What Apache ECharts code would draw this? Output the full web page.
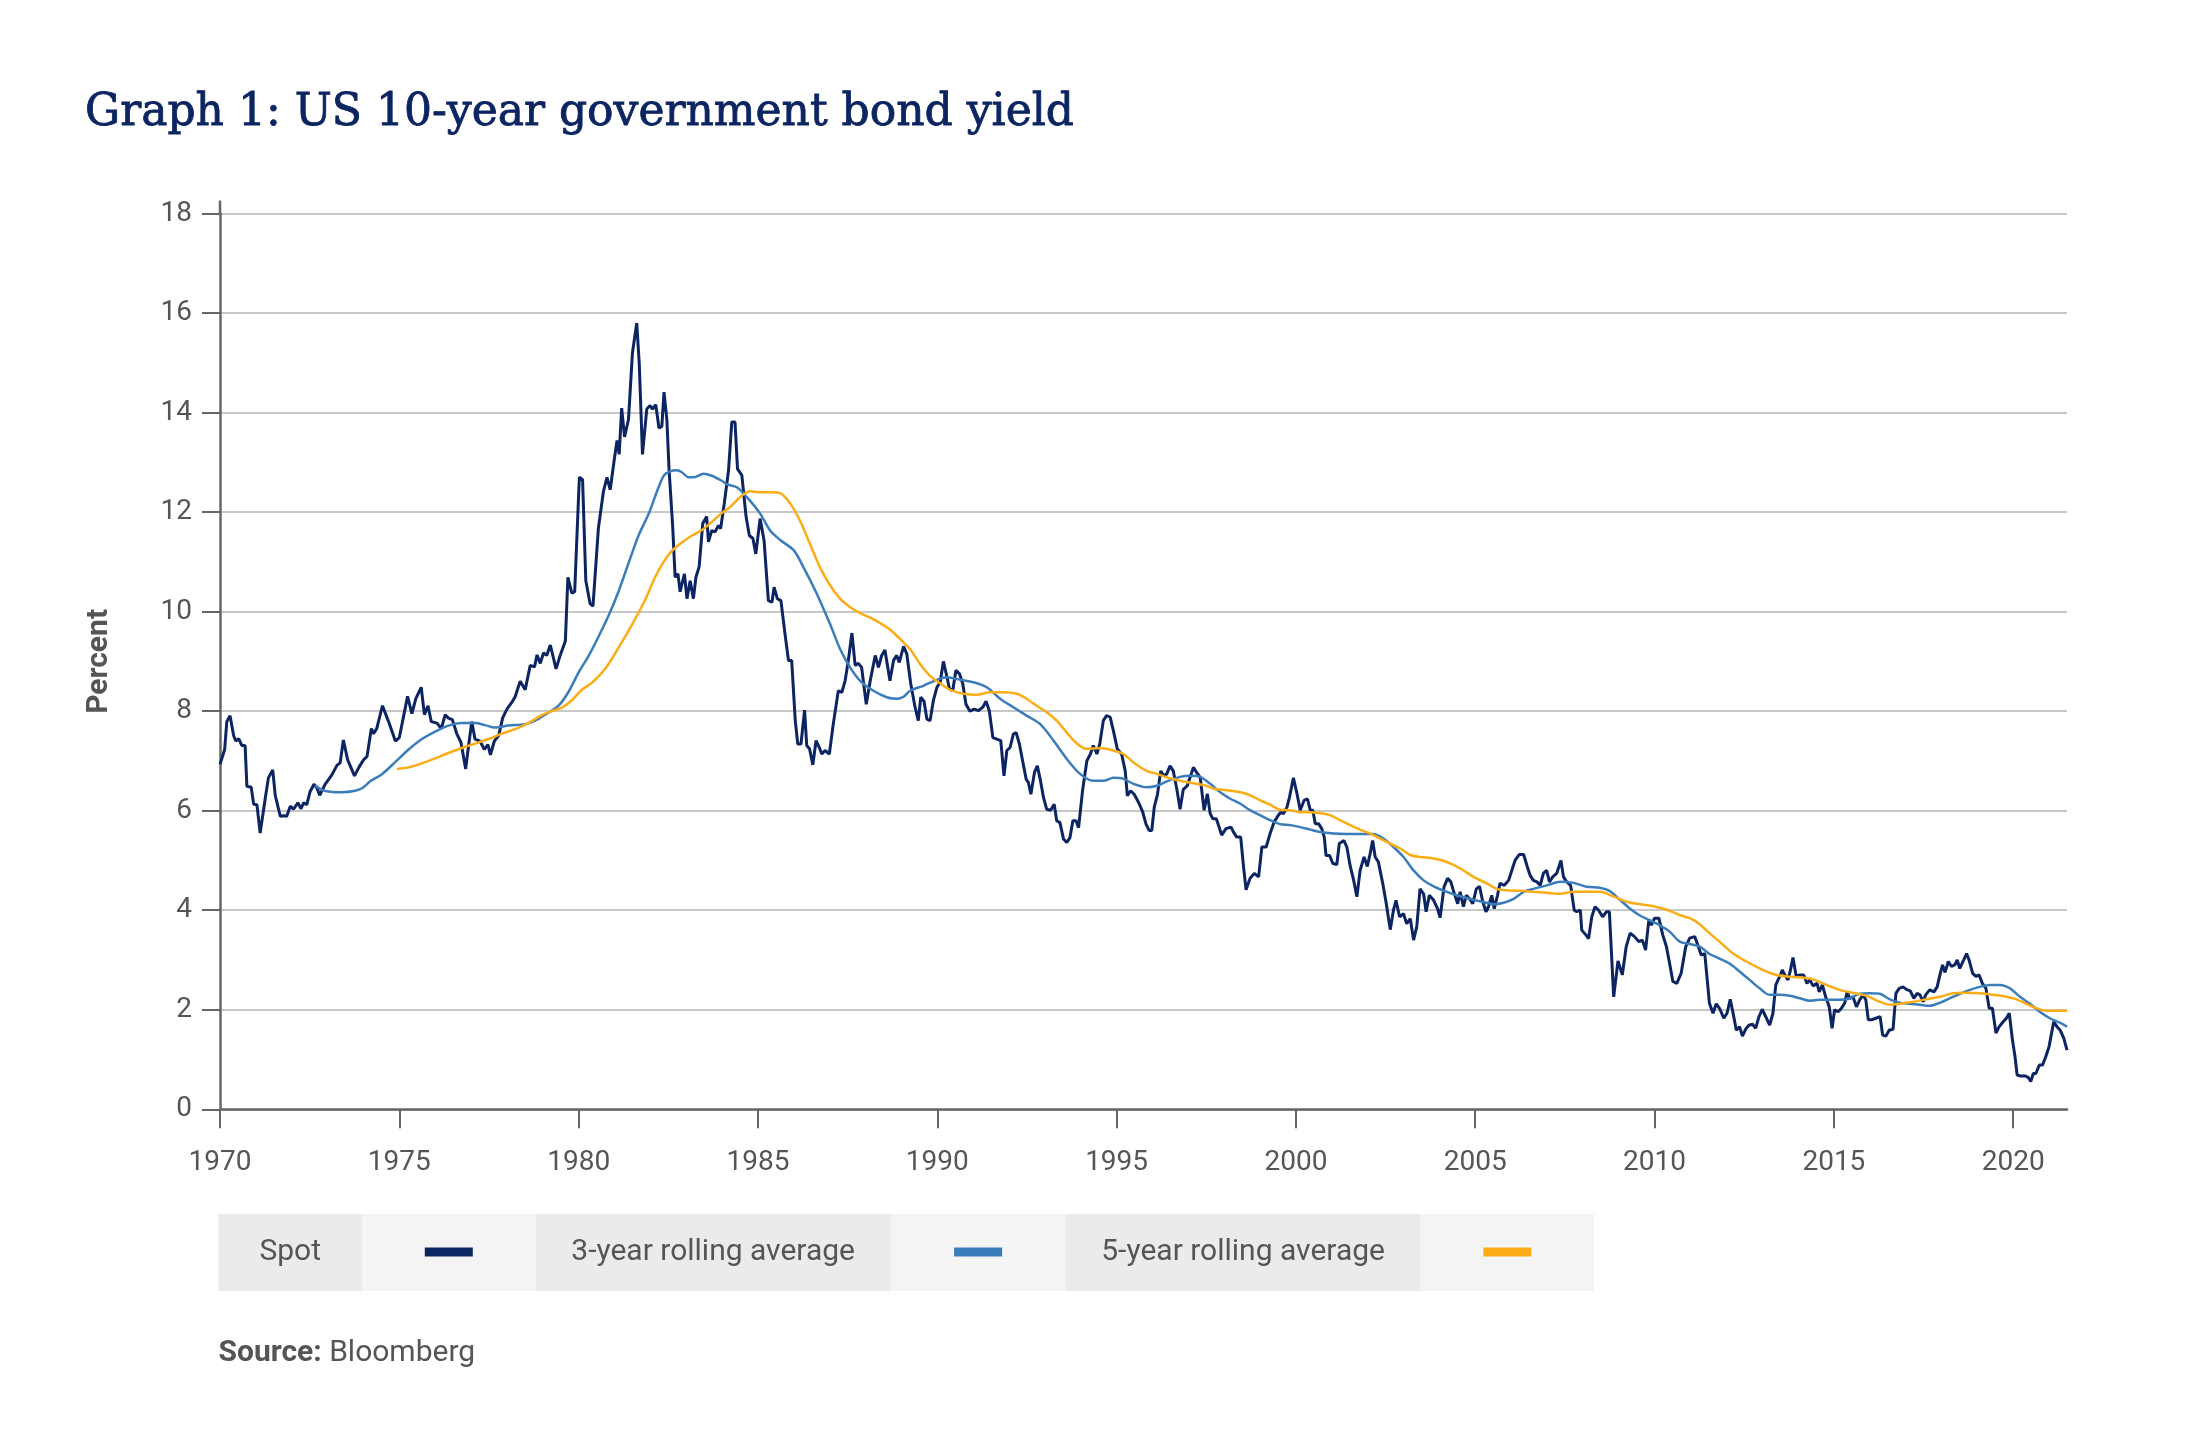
<!DOCTYPE html>
<html><head><meta charset="utf-8">
<script src="https://cdn.jsdelivr.net/npm/echarts@6/dist/echarts.min.js"></script>
<style>html,body{margin:0;padding:0;background:#fff}#chart{width:2210px;height:1454px}</style>
</head><body><div id="chart"></div>
<script>
const titleText = 'Graph 1: US 10-year government bond yield';
const seriesNames = ['Spot', '3-year rolling average', '5-year rolling average'];
const xTickValues = [1970, 1975, 1980, 1985, 1990, 1995, 2000, 2005, 2010, 2015, 2020];
const yTickValues = [0, 2, 4, 6, 8, 10, 12, 14, 16, 18];

const spotYears = [
1970.00,1970.13,1970.19,1970.28,1970.38,1970.44,1970.52,1970.61,1970.70,1970.75,1970.87,1970.94,1971.03,1971.12,1971.26,1971.35,1971.47,1971.54,1971.68,1971.77,1971.86,1971.96,
1972.05,1972.17,1972.26,1972.33,1972.42,1972.51,1972.62,1972.70,1972.78,1972.93,1973.12,1973.26,1973.35,1973.44,1973.56,1973.75,1973.88,
1974.00,1974.10,1974.22,1974.28,1974.37,1974.53,1974.70,1974.89,1975.00,1975.12,1975.23,1975.35,1975.46,1975.61,1975.70,1975.80,1975.89,
1976.05,1976.17,1976.28,1976.37,1976.48,1976.60,1976.72,1976.85,1976.93,1977.02,1977.11,1977.25,1977.37,1977.47,1977.54,1977.65,1977.77,1977.88,
1978.00,1978.14,1978.23,1978.37,1978.51,1978.65,1978.77,1978.84,1978.93,1979.02,1979.11,1979.21,1979.37,1979.49,1979.63,1979.70,1979.81,1979.89,
1980.02,1980.11,1980.20,1980.32,1980.40,1980.55,1980.69,1980.79,1980.88,1981.00,1981.07,1981.13,1981.20,1981.28,1981.39,1981.50,1981.62,1981.69,1981.78,1981.90,1981.99,
1982.06,1982.15,1982.24,1982.32,1982.38,1982.46,1982.52,1982.62,1982.69,1982.77,1982.83,1982.95,1983.02,1983.11,1983.20,1983.27,1983.36,1983.46,1983.57,1983.62,1983.71,1983.80,1983.90,1983.96,
1984.06,1984.18,1984.27,1984.36,1984.43,1984.55,1984.67,1984.76,1984.86,1984.94,1985.06,1985.17,1985.29,1985.39,1985.45,1985.54,1985.64,1985.76,1985.85,1985.94,
1986.04,1986.11,1986.20,1986.30,1986.36,1986.44,1986.53,1986.62,1986.71,1986.78,1986.87,1986.99,1987.10,1987.24,1987.34,1987.43,1987.52,1987.62,1987.71,1987.80,1987.89,
1988.02,1988.13,1988.27,1988.36,1988.45,1988.54,1988.68,1988.78,1988.87,1988.94,1989.06,1989.15,1989.26,1989.38,1989.47,1989.54,1989.63,1989.71,1989.80,1989.89,1989.99,
1990.08,1990.17,1990.26,1990.34,1990.43,1990.52,1990.62,1990.71,1990.80,1990.91,1991.03,1991.15,1991.27,1991.36,1991.45,1991.55,1991.66,1991.77,1991.86,1991.94,
1992.03,1992.12,1992.20,1992.29,1992.38,1992.48,1992.54,1992.61,1992.71,1992.79,1992.87,1992.96,1993.05,1993.16,1993.26,1993.33,1993.42,1993.52,1993.61,1993.70,1993.78,1993.87,1993.94,
1994.05,1994.17,1994.27,1994.35,1994.45,1994.53,1994.63,1994.72,1994.82,1994.91,1995.02,1995.14,1995.24,1995.30,1995.39,1995.49,1995.61,1995.73,1995.82,1995.91,1995.98,
1996.05,1996.14,1996.23,1996.31,1996.40,1996.49,1996.58,1996.68,1996.77,1996.86,1996.97,1997.05,1997.14,1997.23,1997.33,1997.44,1997.53,1997.61,1997.68,1997.78,1997.84,1997.93,
1998.05,1998.19,1998.26,1998.35,1998.46,1998.54,1998.61,1998.72,1998.84,1998.96,1999.05,1999.17,1999.28,1999.39,1999.51,1999.58,1999.65,1999.75,1999.82,1999.93,
2000.03,2000.12,2000.23,2000.32,2000.40,2000.47,2000.54,2000.63,2000.72,2000.79,2000.84,2000.94,2001.03,2001.14,2001.21,2001.34,2001.42,2001.51,2001.61,2001.70,2001.79,2001.90,2001.99,
2002.07,2002.14,2002.21,2002.30,2002.42,2002.52,2002.63,2002.72,2002.79,2002.89,2003.00,2003.09,2003.19,2003.28,2003.37,2003.46,2003.56,2003.63,2003.72,2003.84,2003.95,
2004.02,2004.13,2004.23,2004.32,2004.40,2004.51,2004.58,2004.67,2004.75,2004.84,2004.93,2005.03,2005.12,2005.21,2005.30,2005.37,2005.46,2005.53,2005.62,2005.69,2005.81,2005.93,
2006.02,2006.11,2006.23,2006.35,2006.44,2006.53,2006.62,2006.72,2006.81,2006.90,2006.99,2007.07,2007.16,2007.27,2007.39,2007.46,2007.55,2007.66,2007.76,2007.83,2007.93,2007.97,
2008.09,2008.16,2008.25,2008.34,2008.44,2008.55,2008.66,2008.74,2008.86,2008.98,2009.10,2009.21,2009.32,2009.44,2009.56,2009.66,2009.75,2009.84,2009.91,
2010.00,2010.12,2010.23,2010.33,2010.42,2010.51,2010.62,2010.74,2010.87,2010.98,2011.12,2011.22,2011.30,2011.40,2011.53,2011.63,2011.72,2011.81,2011.93,
2012.02,2012.11,2012.19,2012.28,2012.37,2012.45,2012.54,2012.63,2012.73,2012.82,2012.91,2013.00,2013.10,2013.21,2013.30,2013.38,2013.49,2013.56,2013.63,2013.72,2013.79,2013.86,2013.95,
2014.05,2014.16,2014.25,2014.33,2014.42,2014.53,2014.59,2014.68,2014.77,2014.87,2014.95,2015.02,2015.12,2015.21,2015.30,2015.37,2015.44,2015.53,2015.63,2015.72,2015.81,2015.89,2015.96,
2016.05,2016.17,2016.29,2016.36,2016.45,2016.54,2016.65,2016.73,2016.82,2016.93,2017.02,2017.13,2017.23,2017.32,2017.40,2017.49,2017.56,2017.67,2017.79,2017.88,2017.95,
2018.03,2018.10,2018.19,2018.28,2018.37,2018.44,2018.51,2018.60,2018.70,2018.77,2018.87,2018.96,2019.05,2019.14,2019.24,2019.33,2019.42,2019.52,2019.61,2019.72,2019.81,2019.89,2019.98,
2020.05,2020.11,2020.20,2020.33,2020.42,2020.49,2020.56,2020.63,2020.73,2020.82,2020.91,2021.00,2021.06,2021.13,2021.22,2021.31,2021.41,2021.50
];
const spotValues = [
6.93,7.23,7.79,7.91,7.51,7.40,7.45,7.31,7.31,6.49,6.47,6.13,6.12,5.55,6.24,6.66,6.82,6.31,5.89,5.90,5.89,6.09,
6.03,6.16,6.04,6.16,6.12,6.38,6.53,6.46,6.31,6.53,6.72,6.91,6.96,7.42,7.02,6.70,6.88,
7.02,7.09,7.65,7.55,7.65,8.11,7.79,7.40,7.47,7.90,8.30,7.95,8.25,8.48,7.93,8.11,7.79,
7.76,7.65,7.93,7.86,7.83,7.55,7.37,6.84,7.30,7.79,7.44,7.40,7.23,7.33,7.12,7.40,7.51,7.86,
8.04,8.18,8.29,8.60,8.43,8.92,8.89,9.13,8.96,9.17,9.12,9.33,8.85,9.13,9.41,10.69,10.37,10.40,
12.70,12.65,10.62,10.16,10.11,11.67,12.41,12.70,12.45,13.09,13.44,13.16,14.09,13.51,13.86,15.20,15.80,14.99,13.16,14.07,14.14,
14.07,14.16,13.69,13.72,14.41,13.86,12.87,11.74,10.69,10.76,10.40,10.76,10.26,10.62,10.26,10.69,10.90,11.77,11.91,11.40,11.63,11.60,11.73,11.67,
12.17,12.84,13.81,13.81,12.87,12.74,11.90,11.53,11.47,11.16,11.87,11.43,10.22,10.19,10.49,10.26,10.22,9.52,9.02,9.02,
7.81,7.34,7.34,8.02,7.31,7.24,6.92,7.41,7.27,7.14,7.21,7.14,7.74,8.41,8.38,8.61,9.02,9.57,8.92,8.96,8.88,
8.14,8.61,9.12,8.88,9.12,9.23,8.61,9.02,9.12,8.98,9.30,9.15,8.55,8.08,7.81,8.28,8.20,7.84,7.81,8.21,8.48,
8.58,9.00,8.72,8.45,8.41,8.82,8.75,8.55,8.14,8.00,8.04,8.01,8.08,8.20,8.01,7.47,7.44,7.41,6.70,7.21,
7.27,7.54,7.57,7.34,7.00,6.63,6.57,6.33,6.77,6.90,6.63,6.27,6.03,6.01,6.13,5.80,5.76,5.43,5.36,5.46,5.80,5.80,5.66,
6.40,7.00,7.14,7.31,7.14,7.34,7.81,7.91,7.88,7.61,7.24,7.14,6.80,6.30,6.40,6.33,6.17,5.97,5.73,5.60,5.60,
6.07,6.33,6.80,6.70,6.74,6.90,6.80,6.43,6.03,6.43,6.50,6.67,6.87,6.77,6.67,6.01,6.34,5.94,5.84,5.84,5.71,5.51,
5.64,5.67,5.57,5.47,5.47,4.87,4.41,4.64,4.74,4.67,5.27,5.27,5.54,5.77,5.91,5.97,5.94,6.07,6.27,6.66,
6.34,6.01,6.21,6.24,6.01,6.01,5.74,5.74,5.64,5.47,5.10,5.10,4.94,4.92,5.34,5.40,5.27,4.90,4.60,4.27,4.80,5.07,4.88,
5.14,5.40,5.07,4.97,4.54,4.13,3.61,4.00,4.20,3.87,3.93,3.73,3.83,3.40,3.67,4.43,4.33,3.97,4.30,4.20,4.03,
3.85,4.47,4.64,4.57,4.37,4.13,4.37,4.07,4.30,4.23,4.13,4.43,4.48,4.17,3.97,4.07,4.30,4.03,4.30,4.54,4.50,4.60,
4.80,5.00,5.12,5.12,4.90,4.70,4.60,4.57,4.50,4.74,4.80,4.57,4.67,4.74,5.00,4.67,4.57,4.50,4.00,3.97,4.00,3.60,
3.50,3.43,3.87,4.07,4.00,3.87,3.97,3.97,2.26,2.98,2.70,3.27,3.54,3.47,3.37,3.40,3.20,3.80,3.70,
3.84,3.84,3.50,3.27,2.93,2.57,2.53,2.73,3.27,3.44,3.47,3.27,3.10,3.13,2.13,1.93,2.12,2.03,1.83,
1.93,2.21,1.93,1.59,1.66,1.47,1.61,1.69,1.71,1.63,1.86,2.01,1.86,1.69,1.93,2.50,2.67,2.80,2.70,2.60,2.80,3.05,2.67,
2.70,2.70,2.53,2.60,2.48,2.53,2.36,2.50,2.26,2.06,1.63,2.00,1.96,2.03,2.13,2.36,2.23,2.26,2.06,2.20,2.30,2.20,1.80,
1.80,1.83,1.86,1.49,1.47,1.59,1.61,2.33,2.43,2.46,2.41,2.38,2.23,2.33,2.30,2.16,2.30,2.40,2.36,2.46,2.68,
2.90,2.75,2.97,2.87,2.90,3.00,2.83,2.97,3.13,3.00,2.73,2.67,2.70,2.53,2.43,2.03,2.03,1.53,1.66,1.76,1.83,1.93,1.39,
1.06,0.69,0.67,0.67,0.64,0.56,0.72,0.72,0.89,0.89,1.06,1.26,1.49,1.76,1.66,1.59,1.43,1.19
];

const avg3Years = [
1972.65,1972.84,1973.07,1973.40,1973.77,1973.96,1974.19,1974.51,1974.89,1975.26,
1975.63,1976.00,1976.37,1976.74,1977.12,1977.39,1977.67,1978.04,1978.51,1978.79,
1979.07,1979.44,1979.72,1980.00,1980.27,1980.55,1980.83,1981.11,1981.39,1981.67,
1981.95,1982.13,1982.37,1982.55,1982.74,1982.88,1983.06,1983.20,1983.48,1983.71,
1983.99,1984.13,1984.41,1984.69,1985.06,1985.34,1985.62,1986.00,1986.27,1986.64,
1987.01,1987.29,1987.57,1987.85,1988.22,1988.59,1988.87,1989.06,1989.24,1989.61,
1989.99,1990.26,1990.64,1991.01,1991.38,1991.75,1992.12,1992.49,1992.87,1993.24,
1993.61,1993.98,1994.35,1994.63,1994.91,1995.19,1995.47,1995.84,1996.12,1996.40,
1996.77,1997.05,1997.33,1997.61,1997.89,1998.17,1998.45,1998.72,1999.00,1999.28,
1999.56,1999.84,2000.12,2000.40,2000.68,2001.05,2001.42,2001.79,2002.16,2002.44,
2002.72,2003.00,2003.28,2003.56,2003.84,2004.21,2004.58,2004.95,2005.32,2005.51,
2005.79,2006.07,2006.35,2006.62,2007.00,2007.37,2007.74,2008.11,2008.47,2008.74,
2009.02,2009.30,2009.58,2009.86,2010.14,2010.42,2010.70,2010.98,2011.26,2011.53,
2011.81,2012.09,2012.37,2012.65,2012.93,2013.21,2013.49,2013.77,2014.05,2014.33,
2014.60,2014.98,2015.35,2015.72,2016.00,2016.28,2016.56,2016.84,2017.12,2017.40,
2017.67,2017.95,2018.23,2018.51,2018.79,2019.07,2019.35,2019.63,2019.91,2020.19,
2020.47,2020.74,2021.02,2021.30,2021.50
];
const avg3Values = [
6.51,6.42,6.38,6.37,6.40,6.45,6.59,6.73,6.98,7.23,
7.44,7.59,7.71,7.76,7.76,7.72,7.67,7.71,7.74,7.81,
7.93,8.11,8.39,8.78,9.10,9.49,9.91,10.40,10.97,11.53,
11.96,12.31,12.73,12.82,12.84,12.80,12.70,12.70,12.77,12.73,
12.63,12.56,12.50,12.30,11.97,11.63,11.44,11.23,10.89,10.36,
9.75,9.25,8.88,8.61,8.41,8.28,8.25,8.29,8.41,8.51,
8.63,8.68,8.63,8.58,8.48,8.25,8.08,7.91,7.74,7.41,
7.04,6.74,6.60,6.60,6.66,6.64,6.54,6.47,6.50,6.59,
6.68,6.70,6.68,6.54,6.37,6.24,6.14,6.01,5.91,5.81,
5.73,5.71,5.67,5.62,5.57,5.54,5.53,5.53,5.53,5.44,
5.27,5.07,4.80,4.60,4.48,4.37,4.28,4.21,4.15,4.12,
4.15,4.23,4.37,4.43,4.50,4.57,4.55,4.47,4.45,4.39,
4.22,4.04,3.90,3.80,3.70,3.57,3.37,3.32,3.27,3.12,
3.03,2.93,2.77,2.60,2.43,2.30,2.30,2.28,2.23,2.18,
2.20,2.20,2.21,2.32,2.33,2.32,2.21,2.14,2.12,2.10,
2.08,2.14,2.23,2.32,2.40,2.46,2.50,2.50,2.43,2.26,
2.12,1.96,1.83,1.74,1.66
];

const avg5Years = [
1974.93,1975.26,1975.63,1976.00,1976.37,1976.74,1977.12,1977.49,1977.86,1978.23,
1978.60,1978.97,1979.25,1979.53,1979.81,1980.09,1980.37,1980.74,1981.11,1981.48,
1981.85,1982.13,1982.37,1982.60,1982.88,1983.16,1983.44,1983.71,1983.99,1984.22,
1984.50,1984.78,1985.06,1985.34,1985.62,1985.90,1986.17,1986.45,1986.73,1987.01,
1987.29,1987.57,1987.85,1988.13,1988.41,1988.68,1988.96,1989.24,1989.52,1989.80,
1990.08,1990.36,1990.73,1991.10,1991.47,1991.85,1992.22,1992.49,1992.77,1993.05,
1993.33,1993.61,1993.89,1994.17,1994.54,1994.91,1995.19,1995.47,1995.84,1996.12,
1996.40,1996.77,1997.14,1997.51,1997.70,1998.07,1998.45,1998.72,1999.00,1999.28,
1999.56,1999.84,2000.12,2000.40,2000.68,2000.95,2001.23,2001.51,2001.79,2002.07,
2002.35,2002.63,2002.91,2003.19,2003.46,2003.84,2004.21,2004.58,2004.95,2005.32,
2005.60,2005.88,2006.25,2006.62,2007.00,2007.37,2007.74,2008.11,2008.48,2008.85,
2009.23,2009.60,2009.97,2010.34,2010.71,2010.98,2011.26,2011.53,2011.81,2012.19,
2012.56,2012.93,2013.30,2013.67,2014.05,2014.42,2014.79,2015.16,2015.53,2015.91,
2016.28,2016.56,2016.84,2017.21,2017.58,2017.95,2018.33,2018.70,2019.07,2019.44,
2019.81,2020.09,2020.37,2020.65,2020.93,2021.21,2021.50
];
const avg5Values = [
6.84,6.87,6.95,7.05,7.16,7.26,7.35,7.44,7.55,7.64,
7.76,7.92,8.00,8.07,8.22,8.43,8.57,8.85,9.27,9.73,
10.23,10.69,11.00,11.22,11.39,11.53,11.64,11.80,11.98,12.10,
12.30,12.42,12.40,12.40,12.38,12.17,11.83,11.36,10.89,10.53,
10.26,10.09,9.97,9.88,9.77,9.64,9.45,9.25,8.95,8.71,
8.56,8.43,8.35,8.33,8.38,8.38,8.35,8.25,8.11,7.98,
7.81,7.57,7.35,7.24,7.26,7.21,7.14,6.97,6.80,6.74,
6.67,6.60,6.55,6.50,6.44,6.41,6.37,6.31,6.21,6.12,
6.02,6.01,5.97,5.97,5.95,5.91,5.81,5.71,5.62,5.54,
5.44,5.34,5.24,5.11,5.07,5.04,4.97,4.84,4.67,4.54,
4.43,4.40,4.39,4.37,4.35,4.33,4.37,4.37,4.37,4.28,
4.17,4.12,4.08,4.01,3.90,3.84,3.72,3.54,3.37,3.13,
2.97,2.83,2.72,2.67,2.65,2.61,2.50,2.40,2.34,2.28,
2.16,2.10,2.12,2.16,2.21,2.26,2.33,2.34,2.33,2.30,
2.26,2.21,2.12,2.03,1.98,1.98,1.98
];

const colors = ['#0c2461', '#3b7dbb', '#fbad18'];
const zip = (xs, ys) => xs.map((x, i) => [x, ys[i]]);
if (spotYears.length !== spotValues.length || avg3Years.length !== avg3Values.length || avg5Years.length !== avg5Values.length) {
  console.error('length mismatch', spotYears.length, spotValues.length, avg3Years.length, avg3Values.length, avg5Years.length, avg5Values.length);
}

const chart = echarts.init(document.getElementById('chart'), null, {renderer: 'canvas'});
const labelColor = '#555555';
const fontFam = 'Roboto, "Noto Sans", sans-serif';

const gridLeft = 220, gridTop = 213.5, gridBottomY = 1109.3;

// legend table built from graphic rects (label cell then swatch cell)
const legendTop = 1214, legendH = 77;
const cellEdges = [218.5, 362, 535.6, 890.7, 1065.5, 1420.7, 1594];
const graphics = [];
seriesNames.forEach((name, i) => {
  const l0 = cellEdges[i * 2], l1 = cellEdges[i * 2 + 1], s1 = cellEdges[i * 2 + 2];
  graphics.push({type: 'rect', left: l0, top: legendTop, shape: {width: l1 - l0, height: legendH}, style: {fill: '#ebebeb'}, silent: true});
  graphics.push({type: 'rect', left: l1, top: legendTop, shape: {width: s1 - l1, height: legendH}, style: {fill: '#f4f4f4'}, silent: true});
  graphics.push({type: 'text', x: (l0 + l1) / 2, y: legendTop + legendH / 2, style: {text: name, fill: labelColor, font: '30px ' + fontFam, textAlign: 'center', textVerticalAlign: 'middle'}, silent: true});
  graphics.push({type: 'rect', x: (l1 + s1) / 2 - 24, y: legendTop + legendH / 2 - 5, shape: {width: 48, height: 9}, style: {fill: colors[i]}, silent: true});
});
graphics.push({type: 'text', x: 218.5, y: 1353, style: {
  text: '{b|Source:} Bloomberg', fill: labelColor, font: '30px ' + fontFam, textVerticalAlign: 'middle',
  rich: {b: {fontWeight: 'bold', fontSize: 30, fontFamily: fontFam, fill: labelColor}}
}, silent: true});
// small extension of the y axis line above the top gridline, as in the original
graphics.push({type: 'line', shape: {x1: gridLeft, y1: gridTop - 13, x2: gridLeft, y2: gridTop}, style: {stroke: '#666666', lineWidth: 2.5}, silent: true});

chart.setOption({
  backgroundColor: '#ffffff',
  animation: false,
  title: {
    text: titleText, left: 80, top: 87,
    textStyle: {fontFamily: '"DejaVu Serif", serif', fontSize: 44, fontWeight: 'normal', color: '#0c2461',
      textBorderColor: '#0c2461', textBorderWidth: 0.8}
  },
  grid: {left: gridLeft, right: 143, top: gridTop, bottom: 1454 - gridBottomY, containLabel: false},
  xAxis: {
    type: 'value', min: 1970, max: 2021.5,
    axisLine: {show: true, lineStyle: {color: '#666666', width: 2.5}},
    axisTick: {show: true, length: 19, customValues: xTickValues, lineStyle: {color: '#666666', width: 2}},
    axisLabel: {customValues: xTickValues, color: labelColor, fontSize: 28, fontFamily: fontFam, margin: 40, formatter: v => String(v)},
    splitLine: {show: false}
  },
  yAxis: {
    type: 'value', min: 0, max: 18, interval: 2,
    name: 'Percent', nameLocation: 'middle', nameGap: 106, nameRotate: 90,
    nameTextStyle: {color: labelColor, fontSize: 30, fontWeight: 'bold', fontFamily: fontFam},
    axisLine: {show: true, lineStyle: {color: '#666666', width: 2.5}},
    axisTick: {show: true, length: 18, lineStyle: {color: '#666666', width: 2}},
    axisLabel: {color: labelColor, fontSize: 28, fontFamily: fontFam, margin: 28},
    splitLine: {show: true, lineStyle: {color: '#c8c8c8', width: 2}}
  },
  legend: {show: false, data: seriesNames},
  tooltip: {show: false},
  series: [
    {name: seriesNames[0], type: 'line', data: zip(spotYears, spotValues), showSymbol: false, symbol: 'none',
     lineStyle: {color: colors[0], width: 3}, itemStyle: {color: colors[0]}, z: 3},
    {name: seriesNames[1], type: 'line', data: zip(avg3Years, avg3Values), showSymbol: false, symbol: 'none', smooth: 0.3,
     lineStyle: {color: colors[1], width: 2.5}, itemStyle: {color: colors[1]}, z: 4},
    {name: seriesNames[2], type: 'line', data: zip(avg5Years, avg5Values), showSymbol: false, symbol: 'none', smooth: 0.3,
     lineStyle: {color: colors[2], width: 2.5}, itemStyle: {color: colors[2]}, z: 5}
  ],
  graphic: graphics
});
</script></body></html>
